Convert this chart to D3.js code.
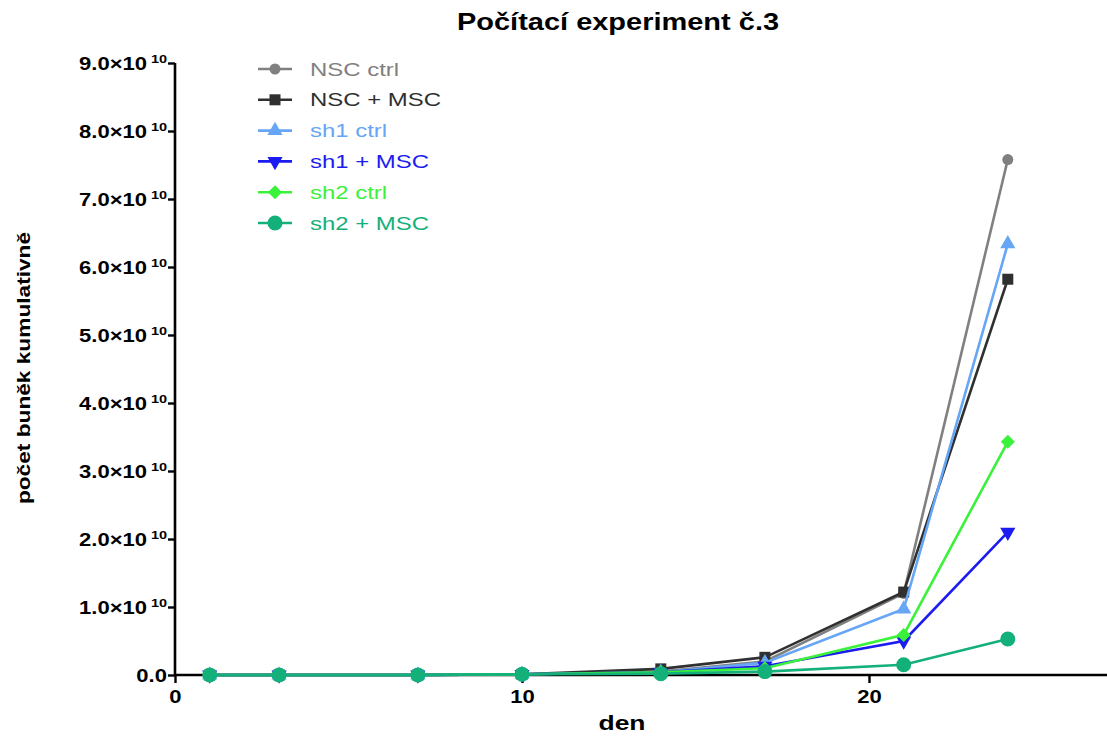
<!DOCTYPE html>
<html>
<head>
<meta charset="utf-8">
<script src="https://cdn.jsdelivr.net/npm/d3@7"></script>
<style>
  body { margin: 0; background: #fff; }
  svg { display: block; font-family: "Liberation Sans", Arial, sans-serif; }
</style>
</head>
<body>
<svg id="chart" width="1107" height="738"></svg>
<script>
// Days on which cells were counted
const days = [1, 3, 7, 10, 14, 17, 21, 24];

// Cumulative cell counts per group (x 1e10)
const nscCtrl = [0, 0, 0, 0.01, 0.05, 0.20, 1.20, 7.58];
const nscMsc  = [0, 0, 0, 0.01, 0.09, 0.26, 1.22, 5.82];
const sh1Ctrl = [0, 0, 0, 0.01, 0.04, 0.18, 0.97, 6.34];
const sh1Msc  = [0, 0, 0, 0.01, 0.04, 0.13, 0.50, 2.10];
const sh2Ctrl = [0, 0, 0, 0.01, 0.04, 0.10, 0.59, 3.43];
const sh2Msc  = [0, 0, 0, 0.01, 0.02, 0.05, 0.15, 0.53];

const seriesNames = ["NSC ctrl", "NSC + MSC", "sh1 ctrl", "sh1 + MSC", "sh2 ctrl", "sh2 + MSC"];
const seriesValues = [nscCtrl, nscMsc, sh1Ctrl, sh1Msc, sh2Ctrl, sh2Msc];
const seriesColors = ["#808080", "#303030", "#66a6f5", "#1c1cf0", "#3af23a", "#14b079"];
const seriesShapes = ["circleSmall", "square", "triangle", "triangleDown", "diamond", "circle"];

const yTicks = [0, 1, 2, 3, 4, 5, 6, 7, 8, 9];
const xTicks = [0, 10, 20];

const svg = d3.select("#chart");
const x0 = 175, yBase = 675, yTop = 63;
const stretch = 1.26; // glyphs are drawn wide

const x = d3.scaleLinear().domain([0, 27]).range([x0, x0 + 27 * 34.7]);
const y = d3.scaleLinear().domain([0, 9]).range([yBase, yTop]);

// Adds a horizontally widened text at (px, py), optionally rotated
function wideText(parent, px, py, rot) {
  return parent.append("text")
    .attr("transform", `translate(${px},${py})${rot ? ` rotate(${rot})` : ""} scale(${stretch},1)`);
}

// Title
wideText(svg, 618, 30)
  .attr("text-anchor", "middle")
  .attr("font-size", 23).attr("font-weight", "bold")
  .text("Počítací experiment č.3");

// Y axis
const yAxis = svg.append("g").attr("transform", `translate(${x0},0)`)
  .call(d3.axisLeft(y).tickValues(yTicks).tickSize(7).tickFormat(""));
yAxis.select(".domain").attr("stroke-width", 2.6).attr("d", `M0,${yBase}V${yTop}`);
yAxis.selectAll(".tick line").attr("stroke-width", 2.4);
yAxis.selectAll(".tick").each(function(d) {
  const t = wideText(d3.select(this), -8, 0)
    .attr("dy", "0.35em")
    .attr("text-anchor", "end")
    .attr("fill", "#000")
    .attr("font-size", 17.5).attr("font-weight", "bold");
  if (d === 0) {
    t.text("0.0");
  } else {
    t.append("tspan").text(d.toFixed(1) + "×10");
    t.append("tspan").attr("font-size", 11.5).attr("dy", "-0.55em").attr("dx", 3).text("10");
  }
});

// X axis
const xAxis = svg.append("g").attr("transform", `translate(0,${yBase})`)
  .call(d3.axisBottom(x).tickValues(xTicks).tickSize(8).tickFormat(""));
xAxis.select(".domain").attr("stroke-width", 2.6).attr("d", `M${x0},0H1107`);
xAxis.selectAll(".tick line").attr("stroke-width", 2.4);
xAxis.selectAll(".tick").each(function(d) {
  wideText(d3.select(this), 0, 28)
    .attr("text-anchor", "middle")
    .attr("fill", "#000")
    .attr("font-size", 17.5).attr("font-weight", "bold")
    .text(d3.format("d")(d));
});

// Axis titles
wideText(svg, 622, 730)
  .attr("text-anchor", "middle")
  .attr("font-size", 21).attr("font-weight", "bold")
  .text("den");

wideText(svg, 30, 368, -90)
  .attr("text-anchor", "middle")
  .attr("font-size", 18).attr("font-weight", "bold")
  .text("počet buněk kumulativně");

// Marker drawing
function drawMarker(g, shape, color) {
  switch (shape) {
    case "circleSmall":
      g.append("circle").attr("r", 5.5).attr("fill", color); break;
    case "circle":
      g.append("circle").attr("r", 7.5).attr("fill", color); break;
    case "square":
      g.append("rect").attr("x", -5.5).attr("y", -5.5).attr("width", 11).attr("height", 11).attr("fill", color); break;
    case "triangle":
      g.append("path").attr("d", d3.symbol(d3.symbolTriangle, 100)()).attr("fill", color); break;
    case "triangleDown":
      g.append("path").attr("d", d3.symbol(d3.symbolTriangle, 100)()).attr("transform", "rotate(180)").attr("fill", color); break;
    case "diamond":
      g.append("path").attr("d", "M0,-7L7,0L0,7L-7,0Z").attr("fill", color); break;
  }
}

const line = d3.line().x((d, i) => x(days[i])).y(d => y(d));

// Series lines and markers
seriesValues.forEach((vals, s) => {
  const color = seriesColors[s];
  svg.append("path")
    .datum(vals)
    .attr("fill", "none")
    .attr("stroke", color)
    .attr("stroke-width", 2.6)
    .attr("d", line);
  vals.forEach((v, i) => {
    const g = svg.append("g").attr("transform", `translate(${x(days[i])},${y(v)})`);
    drawMarker(g, seriesShapes[s], color);
  });
});

// Legend
const legend = svg.append("g").attr("transform", "translate(258,69)");
seriesNames.forEach((name, s) => {
  const row = legend.append("g").attr("transform", `translate(0,${s * 30.8})`);
  row.append("line").attr("x1", 0).attr("x2", 34).attr("y1", 0).attr("y2", 0)
    .attr("stroke", seriesColors[s]).attr("stroke-width", 2.6);
  drawMarker(row.append("g").attr("transform", "translate(17,0)"), seriesShapes[s], seriesColors[s]);
  wideText(row, 52, 0).attr("dy", "0.35em")
    .attr("font-size", 19).attr("fill", seriesColors[s])
    .text(name);
});
</script>
</body>
</html>
